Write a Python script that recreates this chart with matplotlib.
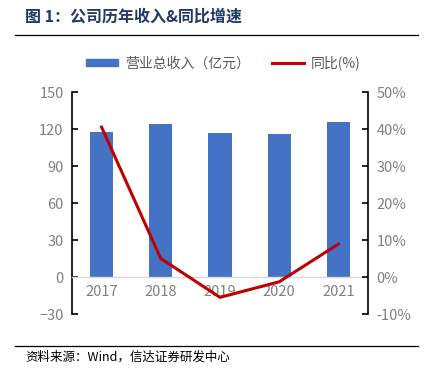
import matplotlib.pyplot as plt
from matplotlib.lines import Line2D
from matplotlib.patches import Patch
from matplotlib.ticker import FuncFormatter

plt.rcParams['font.family'] = ['Noto Sans CJK SC', 'DejaVu Sans']

years = ['2017', '2018', '2019', '2020', '2021']
revenue = [117.6, 123.8, 117.0, 115.7, 125.9]
yoy = [40.5, 5.0, -5.5, -1.3, 8.9]

bar_color = '#4472C4'
line_color = '#C00000'
grey = '#808080'

fig = plt.figure(figsize=(4.30, 3.78), dpi=100)
ax = fig.add_axes([0.1674, 0.1693, 0.6884, 0.5873])
ax2 = ax.twinx()

x = range(len(years))
ax.bar(x, revenue, width=0.39, color=bar_color, zorder=2)
ax2.plot(x, yoy, color=line_color, linewidth=2.2, zorder=3)

ax.set_xlim(-0.5, len(years) - 0.5)
ax.set_ylim(-30, 150)
ax.set_yticks([-30, 0, 30, 60, 90, 120, 150])
ax2.set_ylim(-10, 50)
ax2.set_yticks([-10, 0, 10, 20, 30, 40, 50])
ax2.yaxis.set_major_formatter(FuncFormatter(lambda v, p: f'{v:.0f}%'))

ax.set_xticks(list(x))
ax.set_xticklabels(years)
ax.spines['bottom'].set_position(('data', 0))
ax.spines['bottom'].set_color('#d9d9d9')
ax.spines['bottom'].set_linewidth(1.0)
ax.spines['top'].set_visible(False)
ax.spines['right'].set_visible(False)
ax.spines['left'].set_linewidth(1.2)
for s in ['top', 'left', 'bottom']:
    ax2.spines[s].set_visible(False)
ax2.spines['right'].set_linewidth(1.2)

ax.tick_params(axis='x', length=0, pad=6, labelsize=10.5, labelcolor=grey)
ax.tick_params(axis='y', direction='in', length=4, width=1.2, pad=6,
               labelsize=10.5, labelcolor=grey)
ax2.tick_params(axis='y', direction='in', length=4, width=1.2, pad=6,
                labelsize=10.5, labelcolor=grey)

handles = [Patch(color=bar_color), Line2D([], [], color=line_color, linewidth=2.2)]
fig.legend(handles, ['营业总收入（亿元）', '同比(%)'], loc='center',
           bbox_to_anchor=(0.52, 1 - 63 / 378), ncol=2, frameon=False,
           fontsize=10, labelcolor='#595959', handlelength=2.3,
           handleheight=0.5, columnspacing=1.6, handletextpad=0.5)

fig.text(25 / 430, 1 - 17 / 378, '图 1：公司历年收入&同比增速', fontsize=11.5,
         fontweight='bold', color='#1F3864', va='center', ha='left')
fig.add_artist(Line2D([15 / 430, 418 / 430], [1 - 35 / 378, 1 - 35 / 378],
                      color='black', linewidth=0.9))
fig.add_artist(Line2D([15 / 430, 418 / 430], [1 - 346 / 378, 1 - 346 / 378],
                      color='black', linewidth=0.9))
fig.text(25 / 430, 1 - 357 / 378, '资料来源：Wind，信达证券研发中心', fontsize=9,
         color='black', va='center', ha='left', style='italic')

fig.savefig('out.png', dpi=100)
